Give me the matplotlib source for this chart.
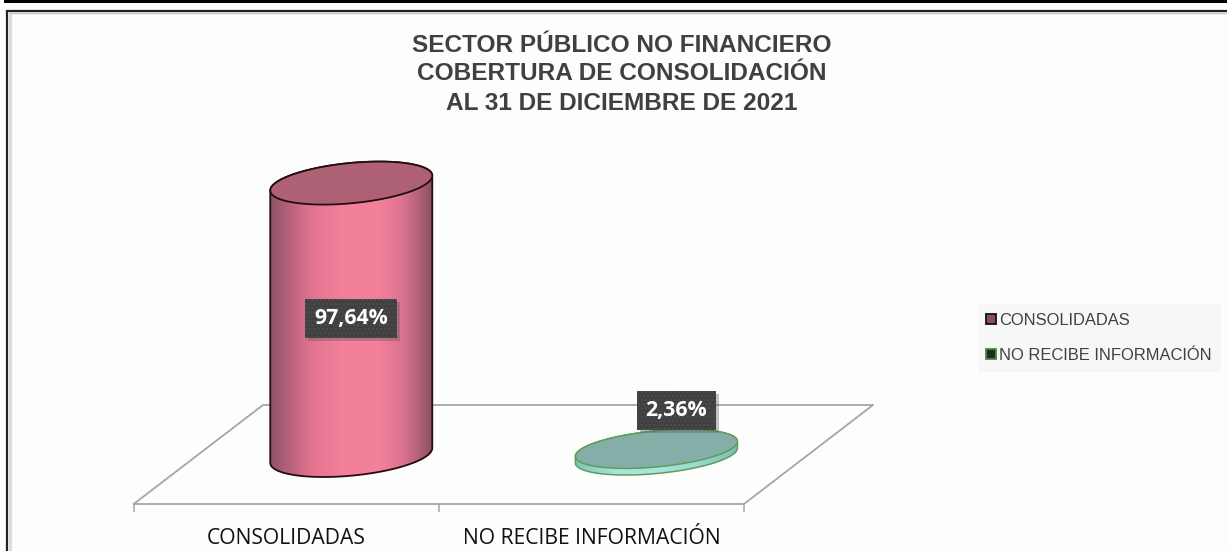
import numpy as np
import matplotlib
matplotlib.use('Agg')
import matplotlib.pyplot as plt
from matplotlib.colors import LinearSegmentedColormap
from matplotlib.lines import Line2D
from matplotlib.patches import Polygon, Rectangle
from matplotlib.transforms import IdentityTransform

# Data
categories = ['CONSOLIDADAS', 'NO RECIBE INFORMACIÓN']
values = [97.64, 2.36]
title_lines = ['SECTOR PÚBLICO NO FINANCIERO', 'COBERTURA DE CONSOLIDACIÓN', 'AL 31 DE DICIEMBRE DE 2021']

W, H = 1227, 551
PX_PER_CAT = 305.15
PX_PER_PCT = 2.79
AX_LEFT, AX_RIGHT = 133.7, 744
AX_BOTTOM, AX_TOP = 504, 100
BASE_Y = 455.5
DEPTH_X = 65      # cylinders sit back on the floor

def ellipse_xy(hw=81.0, hh=20.0, cov=600.0, n=720):
    # tilted ellipse offsets in pixels (y up)
    t = np.linspace(0, 2*np.pi, n, endpoint=False)
    th = 0.5*np.arctan2(2*cov, hw**2-hh**2)
    s = hw**2+hh**2
    d = (hw**2-hh**2)/np.cos(2*th)
    a = np.sqrt((s+d)/2)
    b = np.sqrt((s-d)/2)
    x = a*np.cos(t)*np.cos(th)-b*np.sin(t)*np.sin(th)
    y = a*np.cos(t)*np.sin(th)+b*np.sin(t)*np.cos(th)
    return x, y

def draw_cylinder(ax, cat, val, stops, top_color, edge, lw, hh):
    cx = cat+DEPTH_X/PX_PER_CAT
    x, y = ellipse_xy(hh=hh)
    # start at the leftmost point, so the first part is the lower half
    k = np.argmin(x)
    x = np.roll(x, -k)
    y = np.roll(y, -k)
    ir = np.argmax(x)
    bx = np.r_[x[:ir+1], x[ir:], x[0]]/PX_PER_CAT+cx
    by = np.r_[y[:ir+1]/PX_PER_PCT, y[ir:]/PX_PER_PCT+val, y[0]/PX_PER_PCT+val]
    ax.add_patch(Polygon(np.c_[bx, by], closed=True, fc='none', ec=edge, lw=lw, zorder=3))
    cmap = LinearSegmentedColormap.from_list('cyl', stops)
    im = ax.imshow(np.linspace(0, 1, 256)[None, :], cmap=cmap, aspect='auto', zorder=2,
                   extent=[bx.min(), bx.max(), by.min(), by.max()])
    im.set_clip_path(Polygon(np.c_[bx, by], closed=True, transform=ax.transData))
    ax.fill(x/PX_PER_CAT+cx, y/PX_PER_PCT+val, fc=top_color, ec=edge, lw=lw, zorder=4)

# Figure
fig = plt.figure(figsize=(W/100, H/100), dpi=100, facecolor='#fdfdfd')
bg = fig.add_axes([0, 0, 1, 1], facecolor='none')
bg.set_xlim(0, W)
bg.set_ylim(H, 0)
bg.axis('off')

# page rule and chart frame (only top and left show)
bg.add_patch(Rectangle((4, 0), W-4, 3.4, fc='black', ec='none'))
bg.plot([10, 10], [H, 13], color='#dcdcdc', lw=2.2, solid_capstyle='butt')
bg.plot([9, W], [13.2, 13.2], color='#c4c4c4', lw=1.0, solid_capstyle='butt')
bg.plot([7.3, 7.3, W], [H, 11.3, 11.3], color='#222222', lw=1.6, solid_joinstyle='miter')

ax = fig.add_axes([AX_LEFT/W, 1-AX_BOTTOM/H, (AX_RIGHT-AX_LEFT)/W, (AX_BOTTOM-AX_TOP)/H], facecolor='none')
ax.set_xlim(-0.5, 1.5)
ax.set_ylim((BASE_Y-AX_BOTTOM)/PX_PER_PCT, (BASE_Y-AX_TOP)/PX_PER_PCT)

for s in ['top', 'left', 'right']:
    ax.spines[s].set_visible(False)
ax.spines['bottom'].set_color('#a6a6a6')
ax.spines['bottom'].set_linewidth(1.3)
ax.yaxis.set_visible(False)
ax.set_xticks([0, 1])
ax.set_xticklabels(categories, fontsize=15.2, family='Open Sans', color='#111111')
ax.tick_params(axis='x', which='major', length=0, pad=17)
ax.set_xticks([-0.5, 0.5, 1.5], minor=True)
ax.tick_params(axis='x', which='minor', length=6, width=1.1, color='#a6a6a6')

# floor edges
bg.plot([133.7, 263, 873, 744], [504, 405, 405, 504], color='#a6a6a6', lw=1.3, zorder=1)

pink = [(0, '#8e5465'), (0.1, '#b0607a'), (0.25, '#e2738f'), (0.45, '#f2809a'), (0.68, '#f2809a'),
        (0.82, '#dc7390'), (0.93, '#ad6076'), (1, '#8a5060')]
teal = ['#7fc4ba', '#a8e4e0', '#a8e4e0', '#9ad8d0', '#7cc0b4']
draw_cylinder(ax, 0, values[0], pink, '#ae6074', '#240c12', 1.3, 21.5)
draw_cylinder(ax, 1, values[1], teal, '#85aea8', '#5f9e58', 1.1, 19.5)

# data labels
label_offset_px = [(0, 0.5), (20, 42)]
boxes = []
for i, v in enumerate(values):
    dx, dy = label_offset_px[i]
    t = ax.annotate(f'{v:.2f}%'.replace('.', ','), (i+DEPTH_X/PX_PER_CAT, v/2),
                    xytext=(dx*0.72, dy*0.72), textcoords='offset points',
                    ha='center', va='center', color='white', fontsize=15.3, fontweight='bold',
                    family='Open Sans', zorder=6,
                    bbox=dict(boxstyle='square,pad=0.42', fc='#404040', ec='#4e4e4e', lw=0,
                              hatch='....'))
    boxes.append(t)

# soft shadow under each label box
fig.canvas.draw()
for t in boxes:
    r = t.get_bbox_patch().get_window_extent()
    ax.add_patch(Rectangle((r.x0+3, r.y0-3), r.width, r.height, transform=IdentityTransform(),
                           fc='#555555', ec='none', alpha=0.35, zorder=5))

# title
for line, ypx in zip(title_lines, [46, 74, 103]):
    bg.text(622, ypx, line, ha='center', va='center', fontsize=17.6, fontweight='bold',
            family='Liberation Sans', color='#404040')

# legend
handles = [Line2D([], [], ls='none', marker='s', ms=6.5, mfc='#8a4d5c', mec='#111111', mew=1.3),
           Line2D([], [], ls='none', marker='s', ms=6.5, mfc='#1f2b2b', mec='#4f8a3c', mew=1.3)]
fig.legend(handles, categories, loc='upper left', bbox_to_anchor=(978/W, 1-304/H), borderaxespad=0,
           prop={'family': 'Liberation Sans', 'size': 11.9}, labelcolor='#404040', frameon=True,
           fancybox=False, facecolor='#f7f7f7', edgecolor='none', framealpha=1, handlelength=0.5,
           handletextpad=0.24, labelspacing=1.2, borderpad=0.55)

fig.savefig('out.png', dpi=100, facecolor=fig.get_facecolor())
